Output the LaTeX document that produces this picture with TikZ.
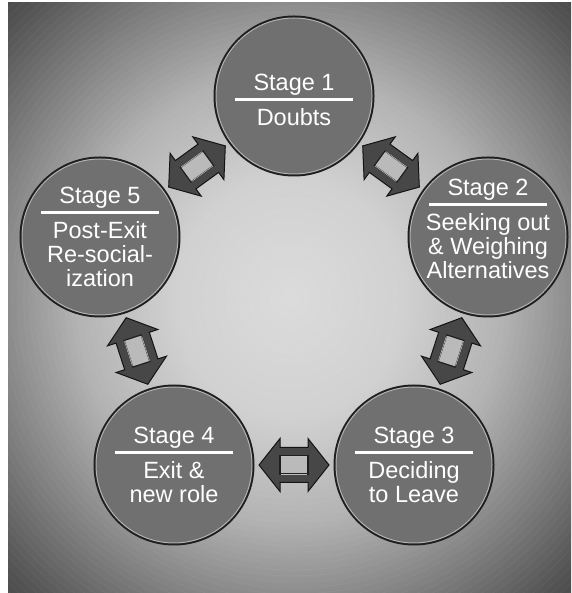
\documentclass[tikz,border=0pt]{standalone}
\usepackage{fontspec}
\setmainfont{Liberation Sans}
\usetikzlibrary{calc}

\pgfdeclareradialshading{glow}{\pgfpoint{0bp}{0bp}}{%
  color(0bp)=(black!14); color(10bp)=(black!18); color(19bp)=(black!30);
  color(27bp)=(black!50); color(34bp)=(black!68); color(48bp)=(black!88);
  color(72bp)=(black!92)}

\tikzset{
  stage/.style={circle, minimum size=156pt, inner sep=0pt, fill=black!56,
    draw=white!70!black, line width=1pt, preaction={draw=black!88, line width=5pt}},
  stagetext/.style={text=white, align=center, inner sep=0pt,
    font=\fontsize{23.5}{24}\selectfont},
  twoway/.pic={
    \draw[fill=black!72, draw=black!92, line width=1pt]
      (-35,0) -- (-14,26.5) -- (-14,17.5) -- (14,17.5) -- (14,26.5) -- (35,0)
      -- (14,-26.5) -- (14,-17.5) -- (-14,-17.5) -- (-14,-26.5) -- cycle;
    \draw[fill=black!27, draw=black!88, line width=1.2pt] (-14,-9) rectangle (14,9);
    \draw[white!75!black, line width=0.6pt] (-13,9) -- (13,9) (-13,-9) -- (13,-9);
  }
}
\newcommand{\stagehead}[1]{Stage #1\\[-14pt]\rule{118pt}{2.5pt}\\[1pt]}

\begin{document}
\begin{tikzpicture}[x=1pt, y=1pt]
\useasboundingbox (0,0) rectangle (571,593);
% backdrop
\fill[white] (0,0) rectangle (571,593);
\shade[shading=glow] (8,0) rectangle (571,590);
\begin{scope}
  \clip (8,0) rectangle (571,590);
  \foreach \r in {6,12,...,480}
    \draw[white, opacity=0.05, line width=0.6pt] (294,293) circle (\r);
\end{scope}

% the five stages
\node[stage] (s1) at (294,497) {};
\node[stage] (s2) at (488,356) {};
\node[stage] (s3) at (414,128) {};
\node[stage] (s4) at (174,128) {};
\node[stage] (s5) at (100,356) {};

\node[stagetext] (t1) at ([yshift=-4pt]s1) {\stagehead{1}Doubts};
\node[stagetext] (t2) at ([yshift=8pt]s2) {\stagehead{2}Seeking out\\\& Weighing\\Alternatives};
\node[stagetext] (t3) at (s3) {\stagehead{3}Deciding\\to Leave};
\node[stagetext] (t4) at (s4) {\stagehead{4}Exit \&\\new role};
\node[stagetext] (t5) at (s5) {\stagehead{5}Post-Exit\\Re-social-\\ization};

% two-way arrows
\foreach \a/\b in {s1/s2, s2/s3, s3/s4, s4/s5, s5/s1}
  \path (\a) -- (\b) pic[midway, sloped] (a-\a\b) {twoway};
\end{tikzpicture}
\end{document}
